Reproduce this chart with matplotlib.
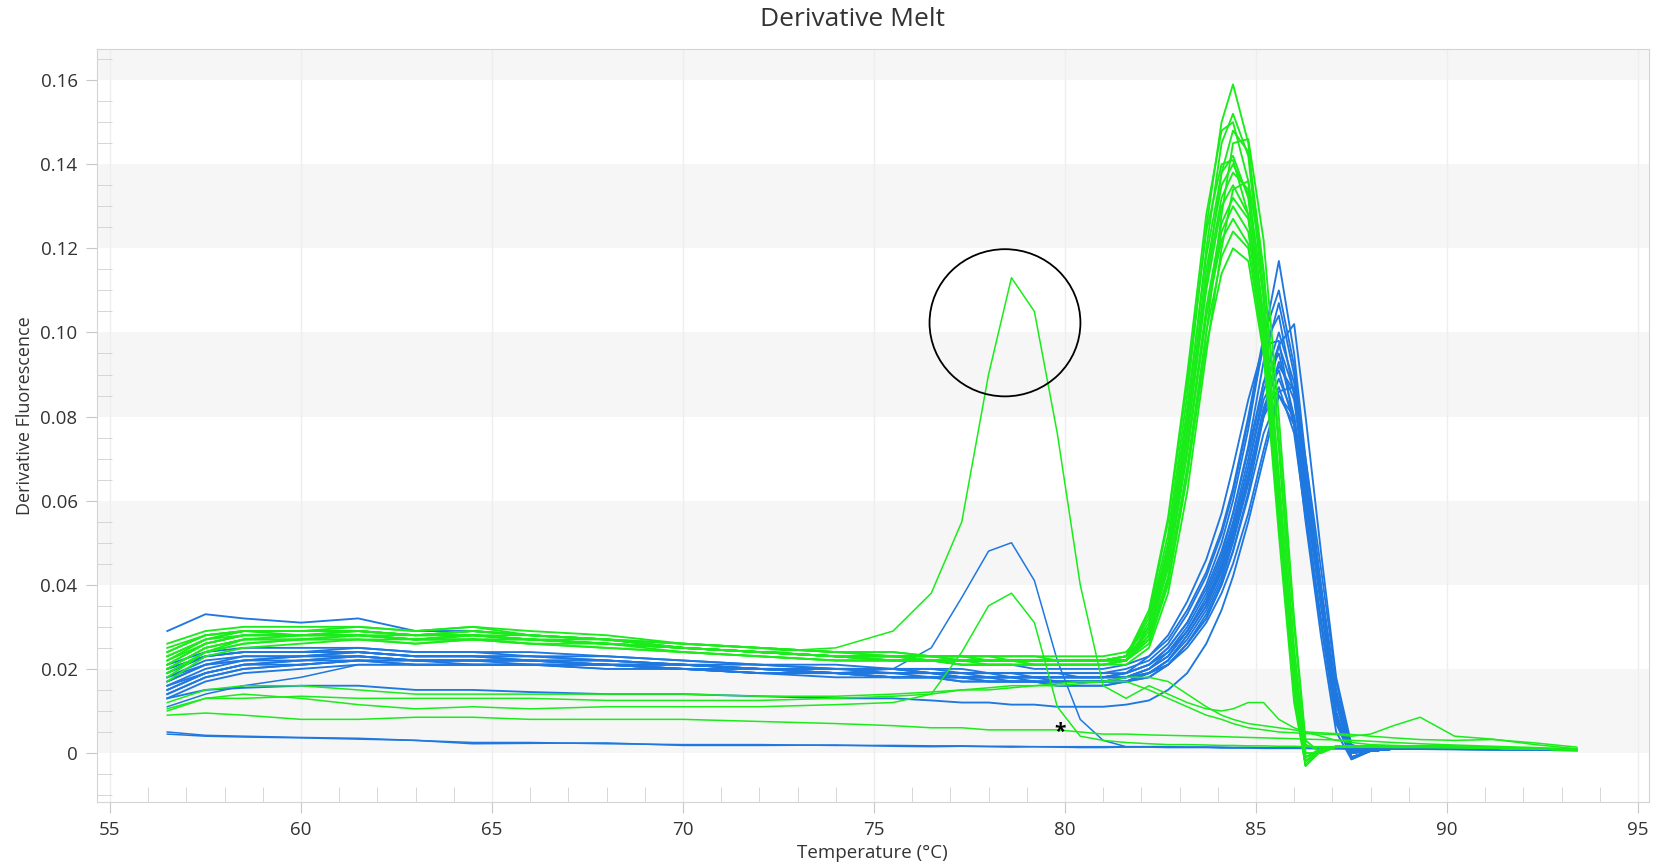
import matplotlib
matplotlib.use("Agg")
import numpy as np
import matplotlib.pyplot as plt
from matplotlib.patches import Ellipse
from matplotlib.ticker import MultipleLocator, FuncFormatter

plt.rcParams['font.family'] = ['Open Sans', 'DejaVu Sans']

# temperature grid (degC) shared by all curves
temps = [56.5, 57.5, 58.5, 60, 61.5, 63, 64.5, 66, 68, 70, 72, 74,
         75.5, 76.5, 77.3, 78.0, 78.6, 79.2, 79.8, 80.4, 81.0, 81.6,
         82.2, 82.7, 83.2, 83.7, 84.1, 84.4, 84.8, 85.2, 85.6, 86.0, 86.3, 86.7, 87.1, 87.5,
         88.0, 88.6, 89.3, 90.2, 91.2, 92.3, 93.4]

# derivative fluorescence, in units of 1e-3
green_peaks = [
    [22, 27, 29, 29, 29, 28, 29, 28, 27, 25, 24, 23, 23, 23, 23, 22, 22, 22, 22, 22, 22, 23,
     32, 52, 85, 125, 150, 159, 145, 110, 65, 20, -2, 1, 1.5, 1.5,
     1.5, 1.5, 1.5, 1.5, 1.2, 1, 0.8],
    [25, 28, 29, 28, 28, 27, 28, 27, 26, 25, 24, 23, 23, 22, 22, 22, 22, 21, 21, 21, 21, 22,
     30, 49, 80, 120, 145, 152, 142, 108, 62, 18, -3, 0.5, 1.5, 1.5,
     1.5, 1.5, 1.5, 1.5, 1.2, 1, 0.8],
    [20, 25, 27, 27, 27, 27, 27, 26, 26, 24, 23, 22, 22, 22, 22, 21, 21, 21, 21, 21, 21, 22,
     28, 45, 75, 112, 138, 148, 143, 115, 72, 25, 0, 0, 1.5, 1.5,
     1.5, 1.5, 1.5, 1.5, 1.2, 1, 0.8],
    [24, 28, 29, 29, 30, 29, 30, 28, 27, 26, 25, 24, 23, 23, 23, 23, 22, 22, 22, 22, 22, 23,
     31, 50, 82, 118, 138, 142, 132, 100, 58, 16, -3, 0.5, 1.5, 1.5,
     1.5, 1.5, 1.5, 1.5, 1.2, 1, 0.8],
    [19, 24, 27, 27, 28, 27, 27, 27, 26, 25, 24, 23, 22, 22, 22, 22, 22, 22, 22, 22, 22, 22,
     30, 48, 78, 115, 135, 140, 133, 104, 62, 19, -2, 1, 1.5, 1.5,
     1.5, 1.5, 1.5, 1.5, 1.2, 1, 0.8],
    [21, 26, 28, 28, 29, 28, 28, 27, 27, 25, 24, 23, 23, 23, 22, 22, 22, 22, 22, 22, 22, 23,
     29, 47, 76, 112, 132, 138, 134, 108, 66, 22, -1, 0.5, 1.5, 1.5,
     1.5, 1.5, 1.5, 1.5, 1.2, 1, 0.8],
    [17, 23, 25, 26, 27, 26, 27, 26, 25, 24, 23, 22, 22, 22, 21, 21, 21, 21, 21, 21, 21, 22,
     29, 46, 75, 110, 130, 135, 128, 100, 60, 18, -3, 1, 1.5, 1.5,
     1.5, 1.5, 1.5, 1.5, 1.2, 1, 0.8],
    [23, 27, 28, 28, 28, 28, 28, 27, 26, 25, 24, 23, 23, 22, 22, 22, 22, 22, 22, 22, 22, 22,
     28, 44, 72, 106, 126, 132, 127, 102, 63, 21, -1, 1, 1.5, 1.5,
     1.5, 1.5, 1.5, 1.5, 1.2, 1, 0.8],
    [18, 24, 26, 27, 28, 27, 27, 27, 26, 25, 24, 23, 22, 22, 22, 22, 22, 21, 21, 21, 21, 22,
     28, 44, 71, 104, 124, 130, 124, 98, 58, 17, -2, 1, 1.5, 1.5,
     1.5, 1.5, 1.5, 1.5, 1.2, 1, 0.8],
    [26, 29, 30, 30, 30, 29, 30, 29, 28, 26, 25, 24, 24, 23, 23, 23, 23, 23, 23, 23, 23, 24,
     30, 46, 72, 104, 122, 127, 121, 96, 57, 17, -2, 1, 1.5, 1.5,
     1.5, 1.5, 1.5, 1.5, 1.2, 1, 0.8],
    [20, 25, 27, 28, 28, 27, 28, 27, 26, 25, 24, 23, 23, 22, 22, 22, 22, 22, 22, 22, 22, 22,
     27, 42, 68, 100, 118, 124, 120, 97, 60, 20, -1, 1, 1.5, 1.5,
     1.5, 1.5, 1.5, 1.5, 1.2, 1, 0.8],
    [22, 26, 28, 28, 29, 28, 28, 28, 27, 25, 24, 23, 23, 23, 22, 22, 22, 22, 22, 22, 22, 22,
     27, 41, 66, 97, 114, 120, 117, 95, 59, 19, -2, 1, 1.5, 1.5,
     1.5, 1.5, 1.5, 1.5, 1.2, 1, 0.8],
    [21, 26, 28, 28, 28, 27, 28, 27, 26, 25, 24, 23, 22, 22, 22, 22, 22, 22, 22, 22, 22, 22,
     26, 40, 66, 100, 128, 145, 146, 122, 80, 32, 3, 0, 1.5, 1.5,
     1.5, 1.5, 1.5, 1.5, 1.2, 1, 0.8],
    [24, 28, 29, 29, 29, 28, 29, 28, 27, 26, 25, 24, 23, 23, 23, 22, 22, 22, 22, 22, 22, 23,
     34, 56, 90, 128, 148, 150, 136, 100, 55, 14, -3, 1, 1.5, 1.5,
     1.5, 1.5, 1.5, 1.5, 1.2, 1, 0.8],
    [19, 24, 26, 27, 27, 26, 27, 26, 25, 24, 23, 22, 22, 22, 21, 21, 21, 21, 21, 21, 21, 21,
     25, 38, 62, 95, 120, 134, 136, 114, 75, 30, 2, 0.5, 1.5, 1.5,
     1.5, 1.5, 1.5, 1.5, 1.2, 1, 0.8],
    [23, 27, 29, 29, 29, 28, 29, 28, 27, 26, 25, 24, 24, 23, 23, 23, 23, 23, 22, 22, 22, 23,
     33, 55, 88, 124, 140, 141, 128, 95, 52, 12, -3, 1, 1.5, 1.5,
     1.5, 1.5, 1.5, 1.5, 1.2, 1, 0.8],
]

blue_peaks = [
    [17, 21, 23, 23, 24, 23, 23, 22, 22, 21, 20, 20, 20, 19, 19, 19, 18, 18, 18, 18, 18, 19,
     21, 25, 31, 40, 50, 60, 77, 98, 117, 95, 70, 40, 12, -1,
     0.5, 1, 1, 1, 1, 0.8, 0.7],
    [29, 33, 32, 31, 32, 29, 29, 28, 27, 25, 24, 23, 22, 22, 21, 21, 21, 20, 20, 20, 20, 21,
     23, 27, 34, 43, 53, 63, 80, 99, 110, 92, 68, 38, 10, -1,
     0.5, 1, 1, 1, 1, 0.8, 0.7],
    [15, 19, 21, 22, 23, 22, 22, 22, 21, 21, 20, 19, 19, 19, 18, 18, 18, 18, 17, 17, 17, 18,
     20, 24, 30, 38, 47, 57, 73, 93, 107, 90, 67, 39, 13, 0,
     0.5, 1, 1, 1, 1, 0.8, 0.7],
    [19, 23, 24, 24, 25, 24, 24, 23, 23, 22, 21, 20, 20, 20, 19, 19, 19, 19, 19, 19, 19, 20,
     22, 26, 33, 42, 52, 62, 79, 97, 104, 85, 62, 35, 9, -1.5,
     0.5, 1, 1, 1, 1, 0.8, 0.7],
    [16, 20, 22, 22, 23, 22, 22, 22, 21, 20, 20, 19, 19, 18, 18, 18, 18, 17, 17, 17, 17, 18,
     20, 23, 29, 37, 46, 55, 70, 88, 100, 88, 66, 38, 12, 0,
     0.5, 1, 1, 1, 1, 0.8, 0.7],
    [14, 18, 20, 21, 22, 22, 21, 21, 21, 20, 19, 19, 18, 18, 18, 17, 17, 17, 17, 17, 17, 17,
     19, 22, 28, 35, 44, 53, 68, 86, 97, 86, 65, 38, 14, 1,
     0.5, 1, 1, 1, 1, 0.8, 0.7],
    [20, 23, 24, 24, 24, 23, 23, 23, 22, 21, 21, 20, 20, 19, 19, 19, 19, 19, 19, 18, 18, 19,
     21, 25, 31, 39, 48, 57, 72, 88, 95, 80, 58, 32, 8, -1,
     0.5, 1, 1, 1, 1, 0.8, 0.7],
    [13, 17, 19, 20, 21, 21, 21, 21, 20, 20, 19, 18, 18, 18, 17, 17, 17, 17, 16, 16, 16, 17,
     18, 21, 26, 33, 41, 50, 64, 81, 93, 84, 64, 39, 15, 1,
     0.5, 1, 1, 1, 1, 0.8, 0.7],
    [18, 21, 22, 23, 23, 22, 22, 22, 21, 21, 20, 19, 19, 19, 18, 18, 18, 18, 18, 18, 18, 18,
     20, 23, 29, 36, 45, 54, 68, 84, 91, 78, 57, 31, 7, -1,
     0.5, 1, 1, 1, 1, 0.8, 0.7],
    [15, 19, 21, 22, 22, 22, 22, 21, 21, 20, 20, 19, 18, 18, 18, 18, 17, 17, 17, 17, 17, 17,
     19, 22, 27, 34, 42, 51, 65, 80, 89, 80, 61, 36, 12, 0,
     0.5, 1, 1, 1, 1, 0.8, 0.7],
    [21, 24, 25, 25, 25, 24, 24, 24, 23, 22, 21, 21, 20, 20, 20, 19, 19, 19, 19, 19, 19, 19,
     21, 24, 29, 36, 44, 52, 66, 80, 87, 76, 56, 31, 8, -1,
     0.5, 1, 1, 1, 1, 0.8, 0.7],
    [16, 19, 21, 21, 22, 21, 21, 21, 21, 20, 19, 19, 18, 18, 17, 17, 17, 17, 16, 16, 16, 17,
     18, 21, 26, 32, 40, 48, 61, 76, 85, 78, 60, 36, 13, 0.5,
     0.5, 1, 1, 1, 1, 0.8, 0.7],
    [17, 21, 22, 23, 23, 22, 22, 22, 21, 21, 20, 19, 19, 19, 18, 18, 18, 18, 18, 18, 18, 18,
     19, 21, 26, 32, 40, 48, 62, 80, 97, 102, 80, 48, 18, 2,
     0.5, 1, 1, 1, 1, 0.8, 0.7],
    [20, 23, 24, 24, 24, 23, 23, 23, 22, 21, 20, 20, 20, 19, 19, 19, 19, 18, 18, 18, 18, 19,
     23, 28, 36, 46, 57, 68, 84, 97, 98, 78, 55, 28, 5, -1.5,
     0.5, 1, 1, 1, 1, 0.8, 0.7],
    [14, 18, 20, 21, 22, 21, 21, 21, 21, 20, 19, 19, 18, 18, 18, 17, 17, 17, 17, 17, 17, 17,
     19, 22, 28, 35, 43, 52, 66, 82, 92, 86, 66, 40, 14, 0.5,
     0.5, 1, 1, 1, 1, 0.8, 0.7],
    [18, 22, 23, 23, 24, 23, 23, 22, 22, 21, 20, 20, 19, 19, 19, 18, 18, 18, 18, 18, 18, 18,
     19, 21, 25, 31, 38, 45, 57, 72, 86, 87, 70, 44, 17, 1,
     0.5, 1, 1, 1, 1, 0.8, 0.7],
    [13, 15, 15.5, 16, 16, 15, 15, 14.5, 14, 14, 13.5, 13,
     13, 12.5, 12, 12, 11.5, 11.5, 11, 11, 11, 11.5,
     12.5, 15, 19, 26, 34, 42, 55, 70, 85, 80, 62, 37, 12, 0,
     0.5, 1, 1, 1, 1, 0.8, 0.7],
]

# the odd wells
green_circled = [20, 25, 27, 28, 28, 27, 28, 27, 26, 25, 24, 25,
                 29, 38, 55, 90, 113, 105, 76, 40, 16, 13,
                 16, 14, 12, 10.5, 10, 10.5, 12, 12, 8, 6, 5, 4, 3, 2.5,
                 2, 1.8, 1.6, 1.4, 1.2, 1, 0.8]
blue_small_peak = [11, 14, 16, 18, 21, 21, 21, 21, 20, 20, 19, 19,
                   20, 25, 37, 48, 50, 41, 22, 8, 3, 1.5,
                   1.5, 1.5, 1.4, 1.4, 1.4, 1.3, 1.3, 1.3, 1.2, 1.2, 1.2, 1.1, 1.1, 1,
                   1, 1, 1, 0.9, 0.8, 0.7, 0.6]
green_small_peak = [10, 13, 14, 13, 11.5, 10.5, 11, 10.5, 11, 11, 11, 11.5,
                    12, 14, 24, 35, 38, 31, 11, 4, 3, 2.5,
                    2.2, 2, 2, 1.9, 1.8, 1.8, 1.7, 1.7, 1.6, 1.6, 1.5, 1.5, 1.5, 1.4,
                    1.4, 1.3, 1.3, 1.2, 1.1, 1, 0.8]
green_low_a = [9, 9.5, 9, 8, 8, 8.5, 8.5, 8, 8, 8, 7.5, 7,
               6.5, 6, 6, 5.5, 5.5, 5.5, 5.5, 5, 4.5, 4.5,
               4.3, 4.2, 4.1, 4, 3.9, 3.8, 3.7, 3.6, 3.5, 3.4, 3.3, 3.2, 3.1, 3,
               2.8, 2.5, 2.2, 1.9, 1.6, 1.3, 1]
green_low_b = [10.5, 13, 13, 13.5, 13, 13, 13, 13, 12.5, 12.5, 12.5, 13,
               13.5, 14, 15, 15.5, 16, 16, 16.5, 17, 17, 17,
               15, 13, 11, 9, 8, 7, 6, 5.5, 5, 4.8, 4.6, 4.5, 4.4, 4,
               4.5, 6.5, 8.5, 4, 3.3, 2, 1]
green_low_c = [12, 15, 16, 16, 15, 14, 14, 14, 14, 14, 13.5, 13.5,
               14, 14.5, 15, 15, 15.5, 16, 16, 16.5, 17, 18,
               18, 17, 14, 11, 9, 8, 7, 6.5, 6, 5.5, 5, 4.8, 4.6, 4.4,
               4, 3.6, 3.2, 3, 3.2, 2.4, 1.4]
blue_low_a = [4.5, 4, 3.8, 3.6, 3.3, 3, 2.5, 2.5, 2.2, 2, 2, 1.8,
              1.8, 1.7, 1.7, 1.6, 1.6, 1.5, 1.5, 1.5, 1.5, 1.5,
              1.5, 1.4, 1.4, 1.4, 1.3, 1.3, 1.3, 1.2, 1.2, 1.2, 1.1, 1.1, 1.1, 1,
              1, 1, 1, 0.9, 0.8, 0.7, 0.6]
blue_low_b = [5, 4.2, 4, 3.7, 3.5, 3, 2.2, 2.3, 2.4, 1.8, 1.8, 1.9,
              1.6, 1.5, 1.6, 1.5, 1.4, 1.5, 1.4, 1.3, 1.3, 1.4,
              1.4, 1.3, 1.3, 1.3, 1.2, 1.2, 1.2, 1.1, 1.1, 1.1, 1.1, 1, 1, 1,
              1, 1, 0.9, 0.8, 0.7, 0.7, 0.6]

GREEN = '#1aec1a'
BLUE = '#1f78e0'
TXT = '#333333'

fig = plt.figure(figsize=(16.57, 8.67), dpi=100)
ax = fig.add_axes([97 / 1657, 65 / 867, 1552 / 1657, 753 / 867])

x = np.array(temps)
for c in blue_peaks:
    ax.plot(x, np.array(c) / 1000, color=BLUE, lw=1.35, zorder=3)
for c in [blue_small_peak, blue_low_a, blue_low_b]:
    ax.plot(x, np.array(c) / 1000, color=BLUE, lw=1.1, zorder=3)
for c in green_peaks:
    ax.plot(x, np.array(c) / 1000, color=GREEN, lw=1.35, zorder=4)
for c in [green_circled, green_small_peak, green_low_a, green_low_b, green_low_c]:
    ax.plot(x, np.array(c) / 1000, color=GREEN, lw=1.1, zorder=4)

ax.set_xlim(54.66, 95.29)
ax.set_ylim(-0.01165, 0.1674)

# alternating background bands
for lo in [0, 0.04, 0.08, 0.12, 0.16]:
    ax.axhspan(lo, lo + 0.02, color='#f6f6f6', lw=0, zorder=0)
for t in range(55, 96, 5):
    ax.axvline(t, color='#eeeeee', lw=1, zorder=1)

ax.xaxis.set_major_locator(MultipleLocator(5))
ax.xaxis.set_minor_locator(MultipleLocator(1))
ax.yaxis.set_major_locator(MultipleLocator(0.02))
ax.yaxis.set_minor_locator(MultipleLocator(0.005))
ax.yaxis.set_major_formatter(FuncFormatter(lambda v, p: '0' if abs(v) < 1e-9 else f'{v:.2f}'))
ax.tick_params(which='major', direction='out', length=8, color='#c8c8c8',
               labelsize=13.5, labelcolor=TXT, pad=6)
ax.tick_params(which='minor', direction='in', length=11, color='#d0d0d0')
for s in ax.spines.values():
    s.set_color('#d4d4d4')

ax.add_patch(Ellipse((78.43, 0.1023), 3.95, 0.035, fill=False, ec='black', lw=1.3, zorder=6))
ax.text(79.87, 0.0050, '*', fontsize=15, color='black', ha='center', va='center',
        fontweight='bold', zorder=6)

fig.text(853 / 1657, 1 - 20 / 867, 'Derivative Melt', fontsize=19, color=TXT, ha='center', va='center')
fig.text(872 / 1657, 1 - 853 / 867, 'Temperature (°C)', fontsize=13.5, color=TXT, ha='center', va='center')
fig.text(25 / 1657, 1 - 416 / 867, 'Derivative Fluorescence', fontsize=13, color=TXT,
         rotation=90, ha='center', va='center')

fig.savefig('out.png', dpi=100)
